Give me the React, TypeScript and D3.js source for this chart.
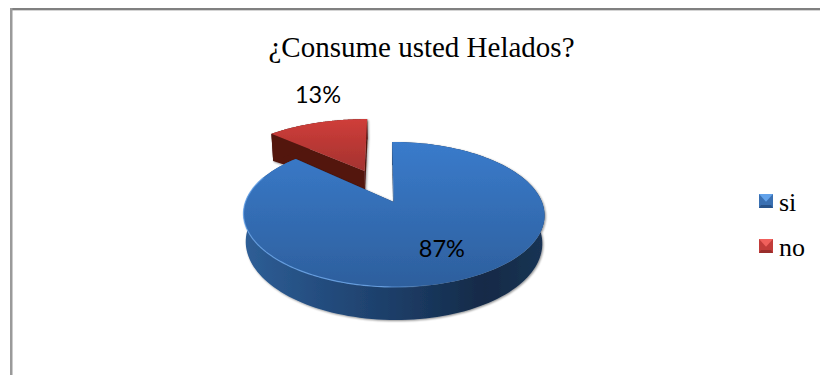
import React from "react";
import * as d3 from "d3";

// Survey answers, in percent
const categories = ["si", "no"];
const shares = [87, 13];
const titleText = "¿Consume usted Helados?";

const W = 820;
const H = 375;

// Camera used to flatten the pie's unit disc onto the page
const originX = 393.7;
const originY = 202;
const radiusX = 148.3;
const radiusY = 70.4;
const perspective = 0.172;
const shear = -1.8;
const floorShrink = 0.015;

type Slice = {
  explode: number;
  spread: number;
  depthBase: number;
  depthTilt: number;
  depthPerspective: boolean;
  labelRadius: number;
  labelTurn: number;
  topFill: string;
  wallFill: string;
};

const sliceStyles: Slice[] = [
  { explode: 0, spread: 1, depthBase: 27.3, depthTilt: 0, depthPerspective: true, labelRadius: 0.66, labelTurn: -2.1, topFill: "url(#blueTop)", wallFill: "url(#blueWall)" },
  { explode: 0.52, spread: 1.055, depthBase: 18.5, depthTilt: -9, depthPerspective: false, labelRadius: 1.66, labelTurn: 7.3, topFill: "url(#redTop)", wallFill: "#521611" },
];

const legendBevels = [
  { top: "#62a2ea", side: "#3a70b2", bottom: "#28538a" },
  { top: "#f0605c", side: "#c23c3a", bottom: "#9a2e2c" },
];

// Maps a point on the disc (z = 0 top face, z = 1 floor) to the page
function project(X: number, Y: number, z: number, s: Slice): [number, number] {
  const w = 1 + perspective * Y;
  const depth = (s.depthBase + s.depthTilt * X) / (s.depthPerspective ? w : 1);
  return [
    originX + (radiusX * X * (1 - floorShrink * z)) / w + (shear * Y) / w,
    originY - (radiusY * Y) / w + depth * z,
  ];
}

const toPath = d3.line<[number, number]>().curve(d3.curveLinear);

function arcSamples(a0: number, a1: number, n = 160) {
  return d3.range(n + 1).map((i) => a0 + ((a1 - a0) * i) / n);
}

export default function App() {
  const arcs = d3
    .pie<number>()
    .sort(null)
    .value((d) => d)(shares);

  const pieces = arcs.map((arc, i) => {
    const s = sliceStyles[i];
    const mid = (arc.startAngle + arc.endAngle) / 2;
    const cx = s.explode * Math.sin(mid);
    const cy = s.explode * Math.cos(mid);
    const rim = (a: number, z: number) =>
      project(cx + s.spread * Math.sin(a), cy + Math.cos(a), z, s);
    const angles = arcSamples(arc.startAngle, arc.endAngle);

    const top = toPath([
      project(cx, cy, 0, s),
      ...angles.map((a) => rim(a, 0)),
    ])! + "Z";
    const wall = toPath([
      ...angles.map((a) => rim(a, 0)),
      ...angles.slice().reverse().map((a) => rim(a, 1)),
    ])! + "Z";
    const radial = (a: number) =>
      toPath([project(cx, cy, 0, s), rim(a, 0), rim(a, 1), project(cx, cy, 1, s)])! + "Z";

    const la = mid + (s.labelTurn * Math.PI) / 180;
    const label = project(
      cx + s.labelRadius * Math.sin(la),
      cy + s.labelRadius * Math.cos(la),
      0,
      s
    );
    return { s, top, wall, startWall: radial(arc.startAngle), endWall: radial(arc.endAngle), label, angles, rim, value: arc.value };
  });

  const blue = pieces[0];
  const rimLight = toPath(
    arcSamples(Math.PI * 0.62, Math.PI * 1.62).map((a) => blue.rim(a, 0))
  )!;

  const fx = d3.scaleLinear().domain([0, 1]).range([245, 545]);
  const fy = d3.scaleLinear().domain([0, 1]).range([142, 287]);

  const legendY = d3.scalePoint<string>().domain(categories).range([194, 239]);
  const boxSize = 14;

  return (
    <svg
      width={W}
      height={H}
      viewBox={`0 0 ${W} ${H}`}
      style={{ position: "fixed", left: 0, top: 0, background: "#fff" }}
    >
      <defs>
        <linearGradient id="blueTop" gradientUnits="userSpaceOnUse" x1={0} x2={0} y1={fy(0)} y2={fy(1)}>
          <stop offset="0" stopColor="#3a7bcb" />
          <stop offset="1" stopColor="#2d5f9d" />
        </linearGradient>
        <linearGradient id="redTop" gradientUnits="userSpaceOnUse" x1={0} x2={0} y1={119} y2={185}>
          <stop offset="0" stopColor="#cf3d3a" />
          <stop offset="1" stopColor="#98302c" />
        </linearGradient>
        <linearGradient id="blueWall" gradientUnits="userSpaceOnUse" x1={fx(0)} x2={fx(1)} y1={0} y2={0}>
          <stop offset="0" stopColor="#2e5e96" />
          <stop offset="0.28" stopColor="#234b7c" />
          <stop offset="0.55" stopColor="#1b3a62" />
          <stop offset="0.8" stopColor="#132a47" />
          <stop offset="1" stopColor="#1a3454" />
        </linearGradient>
        <linearGradient id="rimGlow" gradientUnits="userSpaceOnUse" x1={fx(0)} x2={fx(0.62)} y1={0} y2={0}>
          <stop offset="0" stopColor="#6ea9ee" stopOpacity="0.75" />
          <stop offset="0.75" stopColor="#6ea9ee" stopOpacity="0.8" />
          <stop offset="1" stopColor="#6ea9ee" stopOpacity="0" />
        </linearGradient>
        <filter id="softShadow" x="-10%" y="-10%" width="120%" height="120%">
          <feGaussianBlur in="SourceAlpha" stdDeviation="1.1" />
          <feOffset dx="0.6" dy="0.8" />
          <feComponentTransfer>
            <feFuncA type="linear" slope="0.45" />
          </feComponentTransfer>
          <feMerge>
            <feMergeNode />
            <feMergeNode in="SourceGraphic" />
          </feMerge>
        </filter>
      </defs>

      {/* Frame: only the top and left edges fall inside the page */}
      <rect x={10} y={8} width={W - 10} height={3} fill="#d4d4d4" />
      <rect x={10} y={8} width={W - 10} height={2} fill="#808080" />
      <rect x={10} y={8} width={2.5} height={H - 8} fill="#9a9a9a" />

      {/* The slice pulled out goes first so the large slice overlaps it */}
      {[pieces[1], pieces[0]].map((p, i) => (
        <g key={i} filter="url(#softShadow)">
          <path d={p.startWall} fill={p.s.wallFill} />
          <path d={p.endWall} fill={i === 0 ? p.s.wallFill : "#1d3a60"} />
          <path d={p.wall} fill={p.s.wallFill} />
          <path d={p.top} fill={p.s.topFill} />
        </g>
      ))}
      <path d={rimLight} fill="none" stroke="url(#rimGlow)" strokeWidth={1.2} />

      <g
        fontFamily="Lato, Carlito, sans-serif"
        fontSize={23.5}
        fill="#000"
        textAnchor="middle"
      >
        {pieces.map((p, i) => (
          <text key={i} x={p.label[0]} y={p.label[1]} dy="0.35em">
            {`${p.value}%`}
          </text>
        ))}
      </g>

      <text
        x={421.5}
        y={57}
        textAnchor="middle"
        fontFamily="'Liberation Serif', serif"
        fontSize={29}
        fill="#000"
      >
        {titleText}
      </text>

      {categories.map((c, i) => {
        const x0 = 759;
        const y0 = legendY(c)!;
        const x1 = x0 + boxSize;
        const y1 = y0 + boxSize;
        const mx = x0 + boxSize / 2;
        const bevel = legendBevels[i];
        const poly = (pts: [number, number][]) => toPath(pts)! + "Z";
        return (
          <g key={c}>
            <path d={poly([[x0, y0], [x0, y1], [x1, y1], [x1, y0]])} fill={bevel.side} />
            <path d={poly([[x0, y0], [x1, y0], [mx, y0 + boxSize * 0.55]])} fill={bevel.top} />
            <path d={poly([[x0, y1], [x1, y1], [x1 - 2, y1 - 3], [x0 + 2, y1 - 3]])} fill={bevel.bottom} />
            <text
              x={779}
              y={y0 + 17}
              fontFamily="'Liberation Serif', serif"
              fontSize={26}
              fill="#000"
            >
              {c}
            </text>
          </g>
        );
      })}
    </svg>
  );
}
